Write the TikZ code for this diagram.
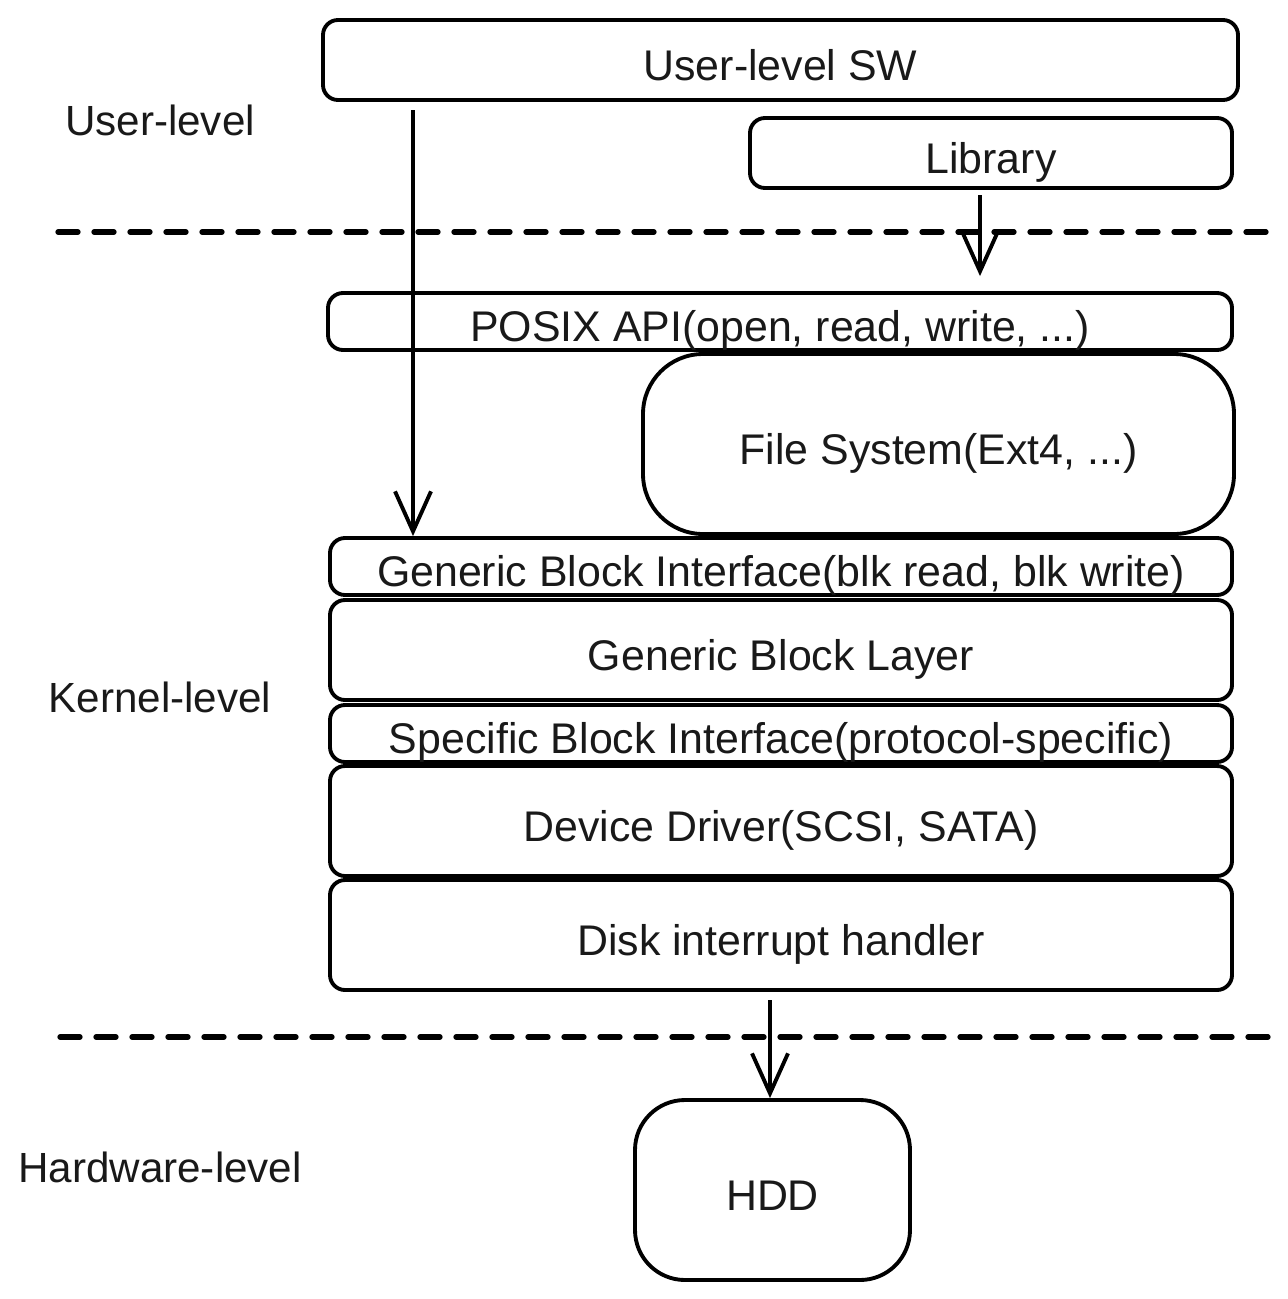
\documentclass[tikz,border=0pt]{standalone}
\usepackage{fontspec}
\setmainfont{Liberation Sans}
\usetikzlibrary{arrows.meta}

\begin{document}
\begin{tikzpicture}[
  layer/.style={rectangle, draw, line width=1.1pt, rounded corners=0.15cm, inner sep=0pt,
    text height=0.40cm, text depth=0cm, font=\fontsize{12.2}{14}\selectfont, text=black!90},
  bigbox/.style={layer, rounded corners=0.6cm},
  levellabel/.style={font=\fontsize{12}{14}\selectfont, text=black!90},
  arr/.style={line width=1.1pt, -{Straight Barb[length=4mm, width=3.6mm, line width=1.1pt]}},
  sep/.style={line width=1.5pt, line cap=round, dash pattern=on 0.2cm off 0.16cm}
]
\useasboundingbox (0,0) rectangle (12.87,-12.99);

% user-level
\node[layer, minimum width=9.15cm, minimum height=0.8cm] (usersw) at (7.805,-0.60) {User-level SW};
\node[layer, minimum width=4.82cm, minimum height=0.7cm] (library) at (9.91,-1.53) {Library};

% kernel-level
\node[layer, minimum width=9.04cm, minimum height=0.57cm] (posix) at (7.80,-3.215) {POSIX API(open, read, write, ...)};
\node[bigbox, minimum width=5.91cm, minimum height=1.80cm] (fs) at (9.385,-4.44) {File System(Ext4, ...)};
\node[layer, minimum width=9.02cm, minimum height=0.57cm] (gbi) at (7.81,-5.665) {Generic Block Interface(blk read, blk write)};
\node[layer, minimum width=9.02cm, minimum height=1.00cm] (gbl) at (7.81,-6.50) {Generic Block Layer};
\node[layer, minimum width=9.02cm, minimum height=0.57cm] (sbi) at (7.81,-7.335) {Specific Block Interface(protocol-specific)};
\node[layer, minimum width=9.02cm, minimum height=1.10cm] (dd) at (7.81,-8.21) {Device Driver(SCSI, SATA)};
\node[layer, minimum width=9.02cm, minimum height=1.10cm] (dih) at (7.81,-9.35) {Disk interrupt handler};

% hardware-level
\node[bigbox, rounded corners=0.5cm, minimum width=2.75cm, minimum height=1.80cm] (hdd) at (7.725,-11.90) {HDD};

% level names
\node[levellabel] (userlbl) at (1.60,-1.20) {User-level};
\node[levellabel] (kernellbl) at (1.60,-6.97) {Kernel-level};
\node[levellabel] (hwlbl) at (1.60,-11.67) {Hardware-level};

% separators
\coordinate (sep1a) at (0.58,-2.32);
\coordinate (sep1b) at (12.70,-2.32);
\coordinate (sep2a) at (0.60,-10.37);
\coordinate (sep2b) at (12.70,-10.37);
\draw[sep] (sep1a) -- (sep1b);
\draw[sep] (sep2a) -- (sep2b);

% arrows
\coordinate (swout) at (4.13,-1.10);
\draw[arr] (swout) -- (swout |- gbi.north);
\coordinate (libout) at (9.80,-1.95);
\draw[arr] (libout) -- ([yshift=0.15cm]libout |- posix.north);
\coordinate (dihout) at (7.70,-10.00);
\draw[arr] (dihout) -- (dihout |- hdd.north);
\end{tikzpicture}
\end{document}
